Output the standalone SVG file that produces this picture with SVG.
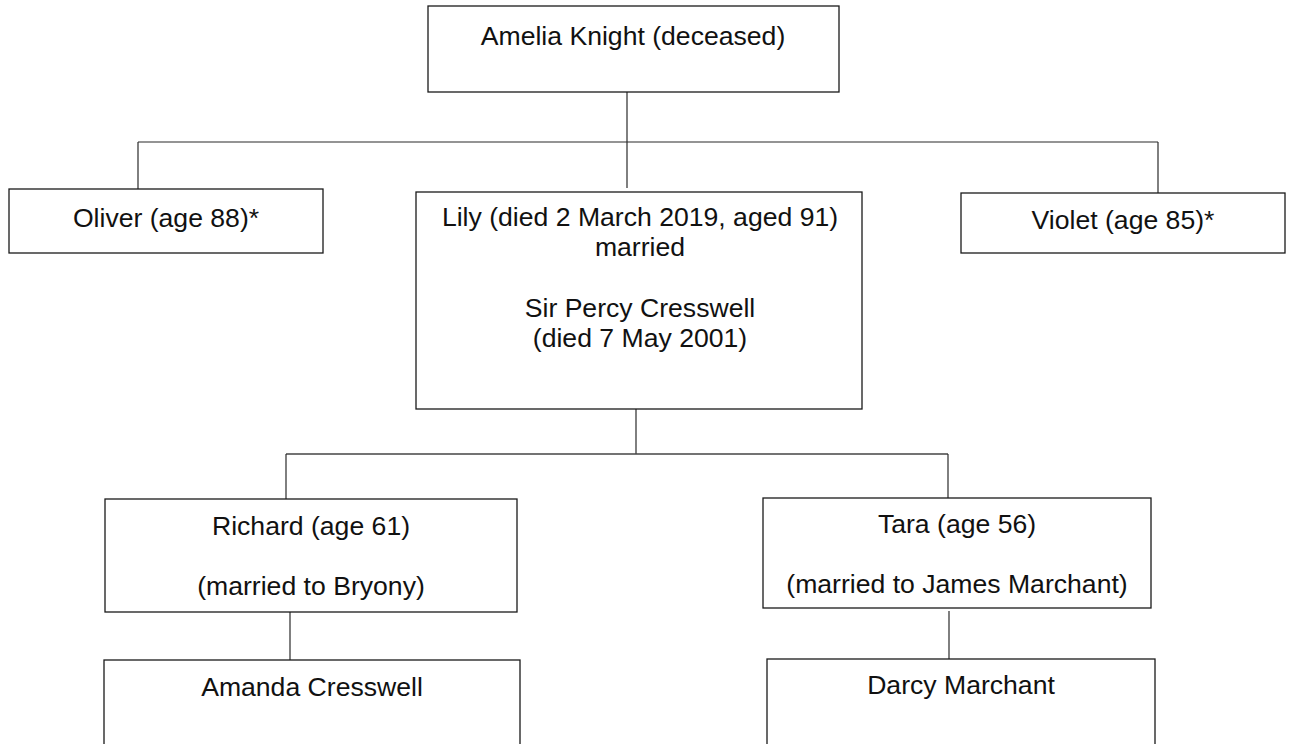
<svg xmlns="http://www.w3.org/2000/svg" width="1289" height="744" viewBox="0 0 1289 744">
<style>
.box{fill:#fff;stroke:#1a1a1a;stroke-width:1.3}
.ln{fill:none;stroke:#2a2a2a;stroke-width:1.2}
.hl{fill:none;stroke:#444;stroke-width:1.6}
text{font-family:"Liberation Sans",Arial,sans-serif;font-size:26.6px;fill:#111;text-anchor:middle}
</style>
<rect width="1289" height="744" fill="#fff"/>
<g id="connectors">
<path class="ln" d="M627 92V188"/>
<path class="ln" d="M138 142H1158"/>
<path class="ln" d="M138 142V189"/>
<path class="ln" d="M1158 142V193"/>
<path class="ln" d="M636 409V454"/>
<path class="hl" d="M286 454H948"/>
<path class="ln" d="M286 454V499"/>
<path class="ln" d="M948 454V498"/>
<path class="ln" d="M290 612V660"/>
<path class="ln" d="M949 611V659"/>
</g>
<g id="amelia"><rect class="box" x="428" y="6" width="411" height="86"/><text x="633" y="45">Amelia Knight (deceased)</text></g>
<g id="oliver"><rect class="box" x="9" y="189" width="314" height="64"/><text x="166" y="227">Oliver (age 88)*</text></g>
<g id="violet"><rect class="box" x="961" y="193" width="324" height="60"/><text x="1123" y="229">Violet (age 85)*</text></g>
<g id="lily"><rect class="box" x="416" y="192" width="446" height="217"/>
<text x="640" y="226">Lily (died 2 March 2019, aged 91)</text>
<text x="640" y="256">married</text>
<text x="640" y="317">Sir Percy Cresswell</text>
<text x="640" y="347">(died 7 May 2001)</text></g>
<g id="richard"><rect class="box" x="105" y="499" width="412" height="113"/>
<text x="311" y="535">Richard (age 61)</text>
<text x="311" y="595">(married to Bryony)</text></g>
<g id="tara"><rect class="box" x="763" y="498" width="388" height="110"/>
<text x="957" y="533">Tara (age 56)</text>
<text x="957" y="593">(married to James Marchant)</text></g>
<g id="amanda"><rect class="box" x="104" y="660" width="416" height="100"/><text x="312" y="696">Amanda Cresswell</text></g>
<g id="darcy"><rect class="box" x="767" y="659" width="388" height="100"/><text x="961" y="694">Darcy Marchant</text></g>
</svg>
